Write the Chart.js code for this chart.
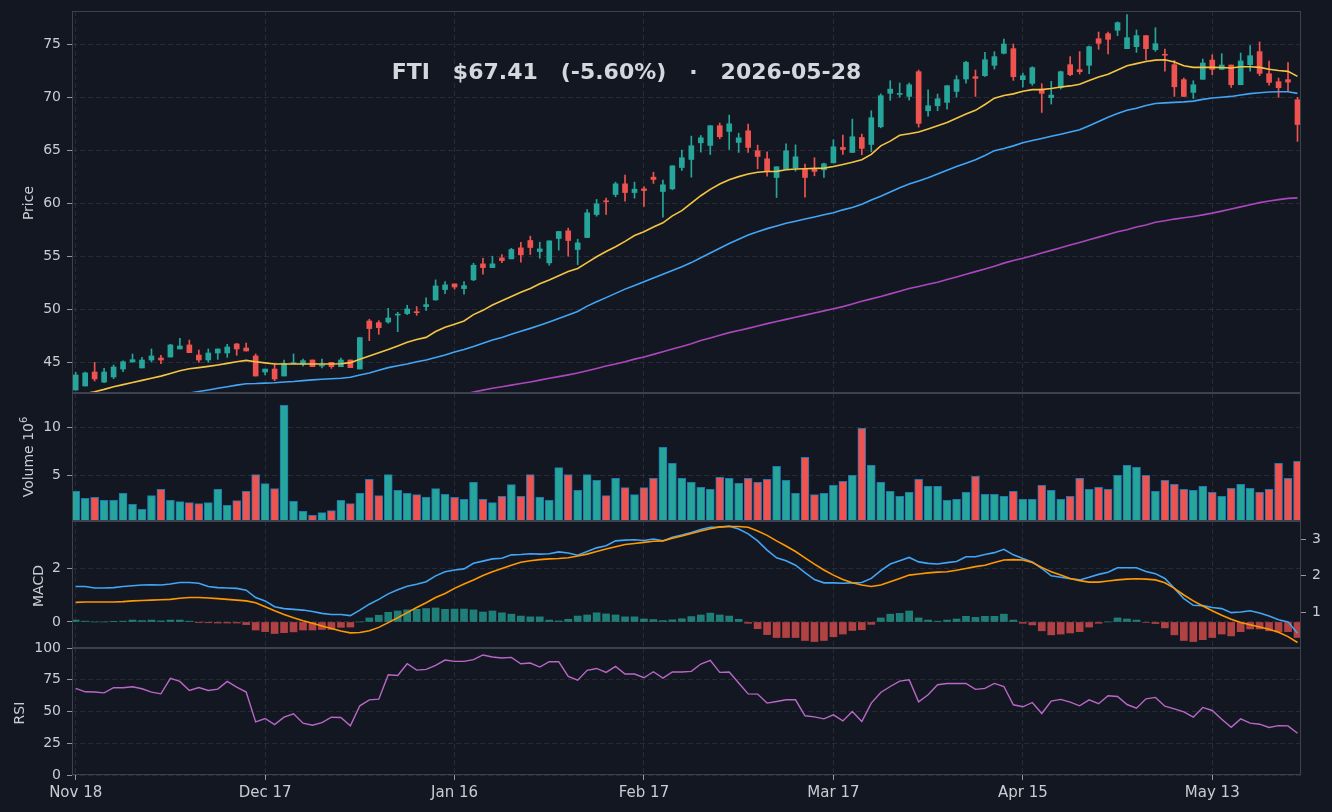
<!DOCTYPE html>
<html>
<head>
<meta charset="utf-8">
<script src="https://cdn.jsdelivr.net/npm/chart.js@4.4.1/dist/chart.umd.min.js"></script>
<style>
  html, body { margin: 0; padding: 0; background: #131722; }
  #wrap { position: relative; width: 1332px; height: 812px; background: #131722; overflow: hidden; font-family: 'DejaVu Sans', sans-serif; }
  #wrap canvas { position: absolute; left: 0; }
  .ylab { position: absolute; color: #c9ccd3; font-size: 14px; line-height: 16px; white-space: nowrap; transform: translate(-50%, -50%) rotate(-90deg); }
  .ylab sup { font-size: 10px; }
  #title { position: absolute; left: 0; width: 1253px; top: 59px; line-height: 26px; text-align: center; color: #d4d7de; font-weight: bold; font-size: 22px; white-space: pre; }
</style>
</head>
<body>
<div id="wrap">
  <canvas id="priceChart" width="1332" height="422" style="top:-9px"></canvas>
  <canvas id="volumeChart" width="1332" height="168" style="top:373px"></canvas>
  <canvas id="macdChart" width="1332" height="167" style="top:501px"></canvas>
  <canvas id="rsiChart" width="1332" height="184" style="top:628px"></canvas>
  <div id="title">FTI   $67.41   (-5.60%)   ·   2026-05-28</div>
  <div class="ylab" style="left:28px; top:203px">Price</div>
  <div class="ylab" style="left:26px; top:457px">Volume  10<sup>6</sup></div>
  <div class="ylab" style="left:38px; top:586px">MACD</div>
  <div class="ylab" style="left:19px; top:713px">RSI</div>
</div>
<script>
// x axis labels (bar index -> date)
const tickIdx = [0, 20, 40, 60, 80, 100, 120];
const tickLabels = ['Nov 18', 'Dec 17', 'Jan 16', 'Feb 17', 'Mar 17', 'Apr 15', 'May 13'];

// OHLC
const opens = [42.39, 42.77, 44.09, 43.14, 43.62, 44.37, 45.03, 44.47, 45.22, 45.41,
    45.50, 46.26, 46.64, 45.69, 45.22, 45.88, 45.88, 46.73, 46.35, 45.60,
    44.09, 44.37, 43.71, 44.87, 44.84, 45.22, 44.65, 45.00, 44.59, 45.22,
    44.37, 48.90, 48.74, 48.80, 49.45, 49.59, 49.75, 50.25, 50.88, 51.86,
    52.39, 51.95, 52.77, 54.28, 53.93, 54.84, 54.75, 55.79, 56.48, 55.44,
    54.37, 56.67, 57.39, 55.63, 56.76, 58.93, 60.22, 60.82, 61.82, 61.00,
    61.35, 62.45, 61.10, 61.35, 63.36, 64.12, 65.69, 65.44, 67.30, 66.76,
    65.72, 66.82, 64.94, 64.18, 62.42, 63.21, 63.33, 63.21, 63.21, 63.14,
    63.80, 65.25, 64.78, 66.19, 65.53, 67.20, 70.35, 70.25, 70.06, 72.39,
    68.71, 69.18, 69.50, 70.53, 71.70, 71.92, 72.01, 72.99, 74.12, 74.56,
    71.64, 71.29, 70.75, 69.94, 70.88, 73.05, 72.58, 72.99, 75.50, 75.97,
    76.29, 74.56, 74.75, 75.79, 74.47, 73.99, 73.05, 71.64, 70.44, 71.67,
    73.49, 72.61, 73.02, 71.16, 73.05, 74.28, 72.20, 71.45, 71.64, 69.75];
const highs = [44.06, 44.09, 45.00, 44.43, 44.75, 45.13, 45.79, 45.47, 46.26, 45.66,
    46.70, 47.26, 47.10, 46.16, 46.26, 46.26, 46.70, 46.79, 46.82, 45.79,
    44.37, 44.84, 45.22, 45.79, 45.31, 45.22, 45.31, 45.00, 45.41, 45.22,
    47.33, 49.06, 48.93, 50.09, 49.72, 50.38, 50.25, 51.07, 52.77, 52.61,
    52.39, 52.61, 54.34, 54.81, 55.00, 55.16, 55.75, 56.32, 56.89, 56.32,
    56.45, 57.33, 57.64, 56.60, 59.40, 60.35, 60.47, 61.98, 62.64, 61.98,
    61.57, 62.92, 62.17, 63.52, 65.00, 66.32, 66.38, 67.30, 67.55, 68.30,
    66.60, 67.45, 65.47, 64.84, 63.43, 65.60, 65.50, 63.68, 64.28, 63.77,
    65.97, 66.42, 67.92, 66.51, 68.71, 70.30, 71.54, 71.32, 71.32, 72.55,
    70.69, 70.28, 71.07, 72.01, 73.36, 72.55, 74.21, 74.28, 75.47, 75.00,
    72.26, 72.86, 71.26, 71.48, 72.45, 73.81, 74.28, 74.81, 76.13, 76.13,
    77.08, 77.77, 76.32, 75.79, 76.54, 74.53, 73.46, 71.79, 71.54, 73.58,
    73.99, 74.09, 73.02, 74.15, 74.84, 75.19, 73.40, 71.79, 73.24, 69.97];
const lows = [42.39, 42.77, 43.24, 43.08, 43.46, 44.12, 45.03, 44.47, 45.03, 44.87,
    45.50, 46.26, 45.91, 45.00, 45.00, 45.28, 45.47, 45.66, 46.07, 43.71,
    43.81, 43.27, 43.71, 44.87, 44.65, 44.59, 44.47, 44.43, 44.59, 44.50,
    44.37, 47.04, 47.64, 48.68, 47.89, 49.50, 49.43, 49.90, 50.85, 51.48,
    51.89, 51.42, 52.70, 53.30, 53.93, 54.40, 54.75, 54.43, 55.16, 54.81,
    54.15, 55.57, 55.00, 54.21, 56.76, 58.77, 58.93, 60.60, 60.19, 60.47,
    59.69, 61.86, 58.68, 61.26, 63.08, 62.45, 64.81, 64.59, 66.07, 65.06,
    64.78, 64.78, 63.24, 62.55, 60.53, 63.21, 63.02, 60.57, 62.58, 62.42,
    63.80, 64.59, 64.78, 64.56, 64.84, 67.10, 69.69, 70.00, 69.72, 67.17,
    68.21, 68.71, 68.87, 70.00, 71.32, 70.06, 71.95, 72.64, 74.06, 71.57,
    70.94, 71.10, 68.55, 69.34, 70.75, 72.01, 72.17, 72.20, 74.50, 74.06,
    75.79, 74.56, 74.21, 73.49, 74.31, 72.45, 70.06, 70.06, 69.87, 71.67,
    72.11, 72.61, 70.91, 71.16, 72.45, 72.01, 71.13, 69.97, 70.60, 65.82];
const closes = [43.81, 44.00, 43.43, 44.09, 44.56, 45.06, 45.25, 45.22, 45.60, 45.22,
    46.64, 46.54, 45.91, 45.22, 45.88, 46.26, 46.45, 46.26, 46.07, 43.71,
    44.37, 43.43, 44.87, 44.93, 45.16, 44.59, 44.72, 44.59, 45.22, 44.50,
    47.33, 48.18, 48.27, 49.18, 49.52, 50.03, 49.68, 50.44, 52.20, 52.30,
    52.10, 52.23, 54.15, 53.93, 54.28, 54.59, 55.63, 55.13, 55.82, 55.69,
    56.45, 57.33, 56.48, 56.26, 59.09, 59.94, 60.13, 61.82, 61.00, 61.32,
    61.19, 62.23, 61.73, 63.52, 64.28, 65.41, 66.16, 67.30, 66.26, 67.48,
    66.16, 65.25, 64.40, 62.99, 63.43, 64.94, 64.37, 62.42, 62.99, 63.71,
    65.31, 65.06, 66.26, 65.16, 68.05, 70.13, 70.75, 70.30, 71.16, 67.52,
    69.18, 69.84, 71.07, 71.64, 73.27, 71.76, 73.52, 73.81, 75.00, 71.92,
    72.01, 72.77, 70.35, 70.19, 72.39, 72.11, 72.39, 74.75, 75.06, 75.44,
    77.01, 75.60, 75.79, 74.56, 75.03, 73.94, 70.97, 70.06, 71.16, 73.21,
    72.61, 73.02, 71.16, 73.40, 73.90, 72.23, 71.38, 70.88, 71.41, 67.41];

// moving averages (null where below the visible range)
const sma20 = [41.90, 42.05, 42.23, 42.45, 42.70, 42.90, 43.10, 43.30, 43.50, 43.70,
    43.95, 44.20, 44.40, 44.50, 44.62, 44.75, 44.90, 45.05, 45.18, 45.06,
    44.95, 44.84, 44.84, 44.84, 44.84, 44.84, 44.84, 44.84, 44.86, 44.97,
    45.30, 45.60, 45.90, 46.20, 46.55, 46.90, 47.15, 47.35, 47.90, 48.30,
    48.60, 48.90, 49.50, 49.90, 50.40, 50.80, 51.20, 51.60, 51.95, 52.40,
    52.75, 53.15, 53.55, 53.85, 54.40, 54.95, 55.45, 55.90, 56.40, 56.95,
    57.30, 57.75, 58.15, 58.80, 59.30, 60.00, 60.70, 61.30, 61.80, 62.20,
    62.50, 62.75, 62.92, 62.98, 63.00, 63.15, 63.22, 63.25, 63.28, 63.30,
    63.45, 63.65, 63.85, 64.10, 64.60, 65.40, 65.85, 66.40, 66.55, 66.70,
    67.00, 67.30, 67.60, 68.00, 68.40, 68.75, 69.30, 69.90, 70.15, 70.30,
    70.55, 70.70, 70.70, 70.80, 70.95, 71.05, 71.20, 71.55, 71.90, 72.15,
    72.55, 72.95, 73.15, 73.35, 73.48, 73.52, 73.30, 72.95, 72.80, 72.80,
    72.80, 72.78, 72.74, 72.85, 72.85, 72.80, 72.62, 72.50, 72.42, 71.95];
const sma50 = [null, null, null, null, null, null, null, null, null, null,
    null, 41.95, 42.10, 42.25, 42.40, 42.55, 42.70, 42.85, 42.98, 43.00,
    43.04, 43.08, 43.14, 43.20, 43.28, 43.35, 43.40, 43.45, 43.50, 43.60,
    43.80, 44.00, 44.25, 44.50, 44.68, 44.85, 45.05, 45.22, 45.45, 45.70,
    45.98, 46.20, 46.50, 46.80, 47.10, 47.35, 47.65, 47.92, 48.20, 48.50,
    48.80, 49.12, 49.45, 49.80, 50.30, 50.70, 51.10, 51.50, 51.90, 52.25,
    52.60, 52.95, 53.30, 53.65, 54.00, 54.40, 54.85, 55.30, 55.75, 56.20,
    56.60, 57.00, 57.30, 57.60, 57.85, 58.10, 58.30, 58.50, 58.70, 58.90,
    59.10, 59.37, 59.60, 59.90, 60.30, 60.65, 61.05, 61.45, 61.80, 62.10,
    62.40, 62.75, 63.10, 63.45, 63.77, 64.10, 64.50, 64.95, 65.15, 65.40,
    65.70, 65.91, 66.10, 66.30, 66.50, 66.70, 66.92, 67.30, 67.70, 68.10,
    68.45, 68.75, 68.95, 69.20, 69.40, 69.45, 69.50, 69.55, 69.62, 69.78,
    69.91, 69.98, 70.06, 70.20, 70.32, 70.40, 70.47, 70.50, 70.50, 70.35];
const sma100 = [null, null, null, null, null, null, null, null, null, null,
    null, null, null, null, null, null, null, null, null, null,
    null, null, null, null, null, null, null, null, null, null,
    null, null, null, null, null, null, null, null, null, null,
    null, 42.00, 42.20, 42.38, 42.55, 42.70, 42.85, 43.00, 43.15, 43.32,
    43.50, 43.65, 43.82, 44.00, 44.20, 44.42, 44.65, 44.85, 45.05, 45.30,
    45.50, 45.75, 46.00, 46.25, 46.50, 46.75, 47.05, 47.30, 47.55, 47.80,
    48.00, 48.20, 48.42, 48.65, 48.85, 49.05, 49.25, 49.45, 49.65, 49.85,
    50.05, 50.25, 50.50, 50.75, 50.98, 51.20, 51.45, 51.70, 51.95, 52.15,
    52.35, 52.55, 52.80, 53.05, 53.30, 53.55, 53.80, 54.05, 54.35, 54.60,
    54.80, 55.05, 55.30, 55.55, 55.80, 56.05, 56.30, 56.55, 56.80, 57.05,
    57.30, 57.50, 57.75, 57.95, 58.20, 58.35, 58.50, 58.62, 58.75, 58.90,
    59.06, 59.25, 59.45, 59.65, 59.85, 60.05, 60.20, 60.33, 60.45, 60.50];

// volume, millions
const volumes = [3.33, 2.60, 2.71, 2.40, 2.40, 3.13, 1.98, 1.46, 2.88, 3.54,
    2.40, 2.26, 2.15, 2.05, 2.15, 3.54, 1.88, 2.36, 3.33, 5.07,
    4.13, 3.61, 12.29, 2.29, 1.25, 0.83, 1.11, 1.32, 2.40, 2.05,
    3.13, 4.58, 2.88, 5.07, 3.44, 3.13, 2.99, 2.71, 3.61, 3.02,
    2.71, 2.50, 4.27, 2.50, 2.15, 2.81, 4.03, 2.81, 5.07, 2.71,
    2.40, 5.80, 5.07, 3.44, 5.07, 4.48, 2.88, 4.69, 3.72, 2.99,
    3.72, 4.69, 7.92, 6.25, 4.69, 4.27, 3.75, 3.54, 4.79, 4.69,
    4.17, 4.69, 4.27, 4.58, 5.94, 4.48, 3.13, 6.88, 2.99, 3.13,
    3.96, 4.38, 5.00, 9.90, 6.04, 4.27, 3.33, 2.81, 3.23, 4.58,
    3.85, 3.85, 2.40, 2.50, 3.23, 4.90, 3.02, 3.02, 2.81, 3.33,
    2.50, 2.50, 3.96, 3.44, 2.50, 2.81, 4.69, 3.54, 3.75, 3.54,
    5.00, 6.04, 5.83, 5.00, 3.33, 4.48, 4.06, 3.54, 3.44, 3.85,
    3.23, 2.81, 3.65, 4.06, 3.65, 3.23, 3.54, 6.25, 4.69, 6.46];

// MACD (lines on the right axis, histogram on the left axis)
const macdLine = [1.71, 1.71, 1.67, 1.67, 1.68, 1.71, 1.73, 1.75, 1.76, 1.75,
    1.78, 1.82, 1.82, 1.80, 1.71, 1.68, 1.67, 1.66, 1.61, 1.41,
    1.32, 1.16, 1.11, 1.09, 1.07, 1.03, 0.98, 0.95, 0.95, 0.92,
    1.07, 1.23, 1.36, 1.51, 1.62, 1.72, 1.77, 1.84, 2.00, 2.11,
    2.16, 2.19, 2.34, 2.40, 2.46, 2.48, 2.57, 2.58, 2.60, 2.59,
    2.60, 2.65, 2.62, 2.56, 2.66, 2.76, 2.82, 2.95, 2.97, 2.98,
    2.96, 3.00, 2.95, 3.05, 3.11, 3.18, 3.26, 3.32, 3.32, 3.35,
    3.27, 3.14, 2.95, 2.70, 2.49, 2.41, 2.29, 2.09, 1.90, 1.81,
    1.81, 1.80, 1.81, 1.82, 1.93, 2.14, 2.32, 2.41, 2.50, 2.38,
    2.34, 2.32, 2.36, 2.39, 2.52, 2.52, 2.58, 2.63, 2.72, 2.57,
    2.47, 2.38, 2.20, 2.00, 1.96, 1.92, 1.89, 1.96, 2.04, 2.10,
    2.22, 2.22, 2.22, 2.12, 2.06, 1.93, 1.66, 1.38, 1.20, 1.19,
    1.14, 1.11, 1.00, 1.02, 1.05, 0.99, 0.91, 0.81, 0.75, 0.44];
const signalLine = [1.28, 1.29, 1.29, 1.29, 1.29, 1.30, 1.32, 1.33, 1.34, 1.35,
    1.36, 1.39, 1.41, 1.41, 1.40, 1.38, 1.36, 1.34, 1.32, 1.27,
    1.16, 1.05, 0.95, 0.86, 0.78, 0.71, 0.64, 0.57, 0.50, 0.45,
    0.46, 0.51, 0.60, 0.73, 0.86, 1.00, 1.14, 1.27, 1.41, 1.52,
    1.66, 1.78, 1.89, 2.01, 2.11, 2.20, 2.29, 2.37, 2.41, 2.44,
    2.46, 2.47, 2.49, 2.54, 2.59, 2.66, 2.73, 2.79, 2.85, 2.88,
    2.91, 2.94, 2.95, 3.02, 3.08, 3.15, 3.22, 3.28, 3.33, 3.34,
    3.34, 3.32, 3.22, 3.10, 2.95, 2.81, 2.66, 2.49, 2.32, 2.16,
    2.02, 1.90, 1.81, 1.75, 1.71, 1.75, 1.84, 1.93, 2.02, 2.05,
    2.08, 2.10, 2.11, 2.15, 2.20, 2.25, 2.29, 2.36, 2.43, 2.44,
    2.43, 2.36, 2.23, 2.11, 2.02, 1.93, 1.87, 1.83, 1.83, 1.86,
    1.89, 1.91, 1.92, 1.91, 1.89, 1.81, 1.66, 1.48, 1.32, 1.18,
    1.05, 0.93, 0.82, 0.73, 0.67, 0.61, 0.55, 0.47, 0.35, 0.19];
const macdHist = [0.07, 0.03, 0.00, 0.00, 0.01, 0.03, 0.07, 0.05, 0.07, 0.04,
    0.07, 0.07, 0.03, -0.01, -0.03, -0.04, -0.04, -0.04, -0.10, -0.30,
    -0.36, -0.43, -0.40, -0.37, -0.30, -0.30, -0.28, -0.28, -0.20, -0.19,
    0.00, 0.15, 0.25, 0.36, 0.41, 0.45, 0.47, 0.50, 0.52, 0.47,
    0.48, 0.48, 0.45, 0.37, 0.41, 0.34, 0.29, 0.22, 0.19, 0.19,
    0.07, 0.04, 0.10, 0.22, 0.26, 0.34, 0.30, 0.26, 0.19, 0.19,
    0.11, 0.09, 0.05, 0.08, 0.12, 0.20, 0.26, 0.33, 0.26, 0.22,
    0.10, -0.05, -0.25, -0.47, -0.58, -0.58, -0.58, -0.69, -0.73, -0.69,
    -0.55, -0.45, -0.32, -0.29, -0.09, 0.15, 0.29, 0.32, 0.41, 0.15,
    0.07, 0.03, 0.07, 0.11, 0.21, 0.17, 0.21, 0.21, 0.29, 0.07,
    -0.05, -0.11, -0.33, -0.48, -0.45, -0.41, -0.36, -0.19, -0.05, 0.00,
    0.15, 0.11, 0.07, -0.02, -0.06, -0.22, -0.48, -0.69, -0.73, -0.66,
    -0.58, -0.45, -0.52, -0.36, -0.26, -0.26, -0.33, -0.37, -0.36, -0.58];

// RSI
const rsi = [68.2, 65.5, 65.3, 64.7, 68.7, 68.7, 69.5, 67.9, 65.3, 63.9,
    76.1, 73.7, 66.6, 68.9, 66.6, 67.6, 73.7, 69.2, 65.3, 41.8,
    44.5, 39.7, 45.5, 48.2, 40.8, 39.2, 41.3, 45.5, 45.3, 38.7,
    54.5, 59.2, 59.7, 78.9, 78.4, 87.6, 82.6, 83.2, 86.3, 90.5,
    89.5, 89.5, 90.8, 94.5, 92.9, 92.1, 92.6, 87.6, 88.2, 85.0,
    89.2, 89.2, 77.6, 74.7, 82.4, 83.9, 80.8, 85.5, 79.5, 79.5,
    76.6, 81.3, 76.3, 81.1, 81.1, 81.6, 87.4, 90.3, 80.8, 81.1,
    72.4, 63.9, 63.7, 56.6, 57.9, 59.2, 59.2, 46.6, 45.8, 44.2,
    47.4, 42.6, 50.0, 42.1, 56.6, 65.0, 69.7, 73.9, 75.0, 57.6,
    63.2, 71.1, 72.1, 72.1, 72.1, 67.4, 68.2, 72.1, 69.7, 55.3,
    53.7, 57.1, 48.4, 58.2, 59.5, 57.4, 54.5, 59.2, 56.1, 62.4,
    61.8, 55.5, 52.6, 60.0, 61.1, 54.2, 52.1, 49.7, 45.5, 53.2,
    50.8, 43.9, 37.6, 44.2, 40.8, 40.0, 37.4, 38.9, 38.7, 32.9];

// axis ticks
const priceTicks = [45, 50, 55, 60, 65, 70, 75];
const volumeTicks = [5, 10];
const macdTicks = [0, 2];
const macdRightTicks = [1, 2, 3];
const rsiTicks = [0, 25, 50, 75, 100];

// styling
const UP = '#26a69a';
const DOWN = '#ef5350';
const GRID = 'rgba(255,255,255,0.09)';
const TEXT = '#c9ccd3';
const TICK = '#9598a1';
const FRAME = '#3d414d';
const FONT = { family: 'DejaVu Sans', size: 14 };
const X_FONT = { family: 'DejaVu Sans', size: 15 };
const X_MIN = -0.39;
const X_MAX = 129.37;
const PAD = 20;

Chart.defaults.font.family = 'DejaVu Sans';

function pts(arr) {
    return arr.map((v, i) => ({ x: i, y: v }));
}

function candleColor(ctx) {
    const i = ctx.dataIndex;
    return closes[i] >= opens[i] ? UP : DOWN;
}

// draw panel frame
const framePlugin = {
    id: 'frame',
    afterDraw(chart) {
        const a = chart.chartArea;
        const ctx = chart.ctx;
        ctx.save();
        ctx.strokeStyle = FRAME;
        ctx.lineWidth = 1;
        ctx.strokeRect(Math.round(a.left) + 0.5, Math.round(a.top) + 0.5,
            Math.round(a.right - a.left) - 1, Math.round(a.bottom - a.top) - 1);
        ctx.restore();
    }
};

function xAxis(showLabels) {
    return {
        type: 'linear',
        min: X_MIN,
        max: X_MAX,
        offset: false,
        afterBuildTicks: s => { s.ticks = tickIdx.map(v => ({ value: v })); },
        afterFit: s => { s.height = showLabels ? 37 : 0; },
        grid: { color: GRID, offset: false, drawTicks: showLabels, tickLength: 5, tickColor: TICK, tickBorderDash: [] },
        border: { display: false, dash: [5, 3] },
        ticks: {
            display: showLabels,
            color: TEXT,
            font: X_FONT,
            padding: 4,
            maxRotation: 0,
            autoSkip: false,
            callback: v => tickLabels[tickIdx.indexOf(v)]
        }
    };
}

function yAxis(min, max, ticks, position) {
    const right = position === 'right';
    return {
        position: position || 'left',
        min: min,
        max: max,
        afterBuildTicks: s => { s.ticks = ticks.map(v => ({ value: v })); },
        afterFit: s => { s.width = right ? 31 : 72; },
        grid: { color: GRID, drawOnChartArea: !right, tickLength: 5, tickColor: TICK, tickBorderDash: [] },
        border: { display: false, dash: [5, 3] },
        ticks: { color: TEXT, font: FONT, padding: 6 }
    };
}

function baseOptions(scales, hasRight) {
    return {
        responsive: false,
        animation: false,
        devicePixelRatio: 1,
        events: [],
        layout: { padding: { left: 0, right: hasRight ? 0 : 31, top: PAD, bottom: PAD } },
        plugins: { legend: { display: false }, tooltip: { enabled: false } },
        scales: scales
    };
}

function lineSet(data, color, width, axis) {
    return {
        type: 'line',
        data: pts(data),
        borderColor: color,
        borderWidth: width,
        pointRadius: 0,
        tension: 0,
        spanGaps: false,
        yAxisID: axis || 'y',
        order: 0
    };
}

// Price panel
function initPriceChart() {
    const ctx = document.getElementById('priceChart').getContext('2d');
    new Chart(ctx, {
        type: 'bar',
        data: {
            datasets: [
                {
                    data: lows.map((l, i) => ({ x: i, y: [l, highs[i]] })),
                    backgroundColor: candleColor,
                    barThickness: 1,
                    grouped: false,
                    order: 2
                },
                {
                    data: opens.map((o, i) => ({ x: i, y: [o, closes[i]] })),
                    backgroundColor: candleColor,
                    barThickness: 5,
                    minBarLength: 1,
                    grouped: false,
                    order: 1
                },
                lineSet(sma100, '#ab47bc', 1.6),
                lineSet(sma50, '#42a5f5', 1.6),
                lineSet(sma20, '#f5c542', 1.6)
            ]
        },
        options: baseOptions({
            x: xAxis(false),
            y: yAxis(42.11, 78.11, priceTicks)
        }),
        plugins: [framePlugin]
    });
}

// Volume panel
function initVolumeChart() {
    const ctx = document.getElementById('volumeChart').getContext('2d');
    new Chart(ctx, {
        type: 'bar',
        data: {
            datasets: [{
                data: pts(volumes),
                backgroundColor: candleColor,
                borderColor: '#1f77b4',
                borderWidth: 1,
                barThickness: 8
            }]
        },
        options: baseOptions({
            x: xAxis(false),
            y: yAxis(0.24, 13.57, volumeTicks)
        }),
        plugins: [framePlugin]
    });
}

// MACD panel
function initMacdChart() {
    const ctx = document.getElementById('macdChart').getContext('2d');
    new Chart(ctx, {
        type: 'bar',
        data: {
            datasets: [
                {
                    data: pts(macdHist),
                    backgroundColor: c => macdHist[c.dataIndex] >= 0 ? 'rgba(38,166,154,0.72)' : 'rgba(239,83,80,0.72)',
                    barThickness: 7,
                    yAxisID: 'y',
                    order: 1
                },
                lineSet(signalLine, '#ff9800', 1.6, 'y2'),
                lineSet(macdLine, '#42a5f5', 1.6, 'y2')
            ]
        },
        options: baseOptions({
            x: xAxis(false),
            y: yAxis(-0.97, 3.76, macdTicks),
            y2: yAxis(0.04, 3.49, macdRightTicks, 'right')
        }, true),
        plugins: [framePlugin]
    });
}

// RSI panel
function initRsiChart() {
    const ctx = document.getElementById('rsiChart').getContext('2d');
    const opts = baseOptions({
        x: xAxis(true),
        y: yAxis(0, 100, rsiTicks)
    });
    opts.layout.padding.bottom = 0;
    new Chart(ctx, {
        type: 'line',
        data: { datasets: [lineSet(rsi, '#ba68c8', 1.4)] },
        options: opts,
        plugins: [framePlugin]
    });
}

initPriceChart();
initVolumeChart();
initMacdChart();
initRsiChart();
</script>
</body>
</html>
